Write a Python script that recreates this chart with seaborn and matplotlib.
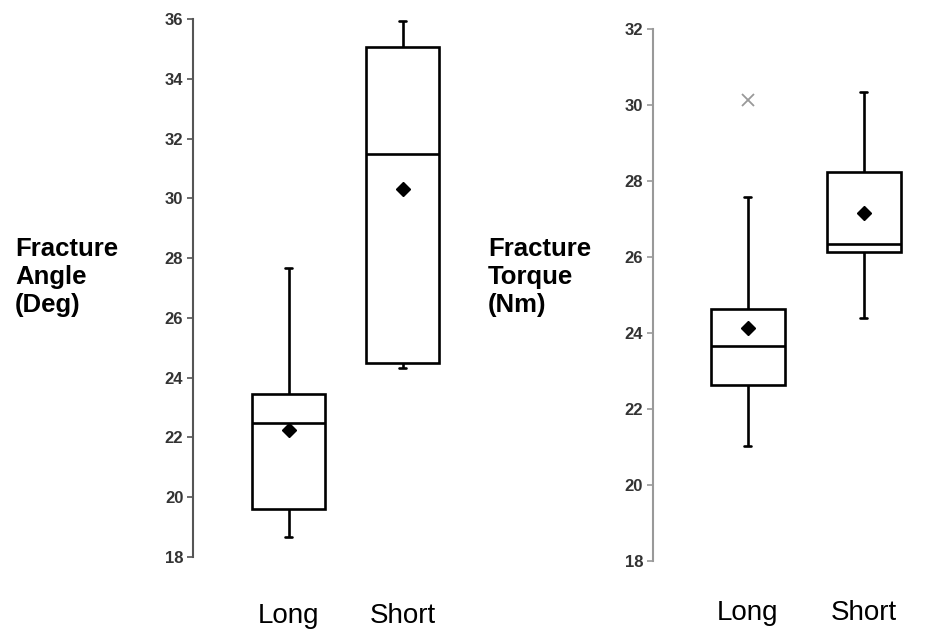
import matplotlib.pyplot as plt
import pandas as pd
import seaborn as sns

groups = ["Long", "Short"]

angle_long = [18.68, 19.2, 19.61, 21.0, 22.49, 23.0, 23.46, 25.14, 27.67]
angle_short = [24.33, 24.4, 24.49, 28.6, 31.48, 33.0, 35.06, 35.5, 35.93]

# Fracture torque (Nm) observations
torque_long = [21.03, 21.1, 22.63, 22.7, 23.66, 23.71, 24.63, 27.58, 30.13]
torque_short = [24.39, 25.5, 26.13, 26.2, 26.34, 27.8, 28.24, 29.5, 30.34]

angle_df = pd.DataFrame({
    "group": ["Long"] * len(angle_long) + ["Short"] * len(angle_short),
    "value": angle_long + angle_short,
})
torque_df = pd.DataFrame({
    "group": ["Long"] * len(torque_long) + ["Short"] * len(torque_short),
    "value": torque_long + torque_short,
})

sns.set_style("white")
plt.rcParams["font.family"] = ["Liberation Sans", "DejaVu Sans"]

fig = plt.figure(figsize=(9.3, 6.34), dpi=100)
ax1 = fig.add_axes([0.2075, 0.1215, 0.299, 0.8486])
ax2 = fig.add_axes([0.702, 0.115, 0.289, 0.839])

box_kws = dict(
    order=groups, width=0.64, color="white", linecolor="black", linewidth=1.9,
    showmeans=True,
    meanprops=dict(marker="D", markerfacecolor="black", markeredgecolor="black", markersize=7),
    flierprops=dict(marker="x", markeredgecolor="#999999", markersize=9, markeredgewidth=1.3),
    capwidths=0.06,
)

sns.boxplot(data=angle_df, x="group", y="value", ax=ax1, **box_kws)
sns.boxplot(data=torque_df, x="group", y="value", ax=ax2, **box_kws)

for ax, lims, xlims, spine_col, xpad in [
    (ax1, (18, 36), (-0.84, 1.6), "#555555", 33),
    (ax2, (18, 32), (-0.82, 1.5), "#999999", 28),
]:
    ax.set_ylim(*lims)
    ax.set_yticks(range(lims[0], lims[1] + 1, 2))
    ax.set_xlim(*xlims)
    ax.set_xlabel("")
    ax.set_ylabel("")
    sns.despine(ax=ax, bottom=True)
    ax.spines["left"].set_color(spine_col)
    ax.spines["left"].set_linewidth(1.5)
    ax.tick_params(axis="y", left=True, length=4, width=1.2, color=spine_col,
                   pad=3, labelsize=12, labelcolor="#333333")
    for lab in ax.get_yticklabels():
        lab.set_fontweight("bold")
    ax.tick_params(axis="x", length=0, pad=xpad, labelsize=20, labelcolor="black")

fig.text(15 / 930, 1 - 277 / 634, "Fracture\nAngle\n(Deg)", ha="left", va="center",
         fontsize=18.5, fontweight="bold", linespacing=1.2, color="black")
fig.text(488 / 930, 1 - 277 / 634, "Fracture\nTorque\n(Nm)", ha="left", va="center",
         fontsize=18.5, fontweight="bold", linespacing=1.2, color="black")

fig.savefig("out.png", dpi=100)
